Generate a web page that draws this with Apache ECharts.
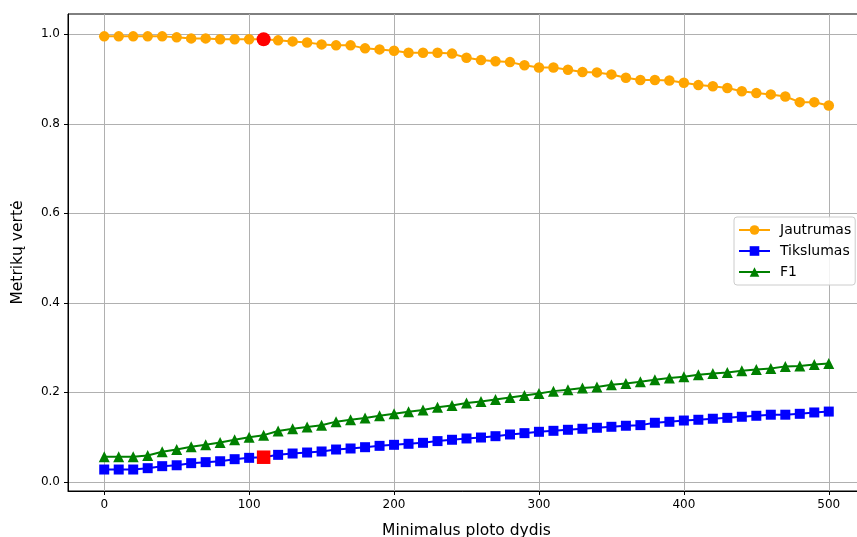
<!DOCTYPE html>
<html>
<head>
<meta charset="utf-8">
<script src="https://cdn.jsdelivr.net/npm/echarts@6/dist/echarts.min.js"></script>
<style>
  html, body { margin: 0; padding: 0; background: #fff; }
  #chart { width: 857px; height: 537px; }
</style>
</head>
<body>
<div id="chart"></div>
<script>
// Minimal plot size thresholds (x axis)
const plotSizes = [];
for (let s = 0; s <= 500; s += 10) plotSizes.push(s);

// Recall (Jautrumas)
const jautrumas = [
  0.9955, 0.9955, 0.9955, 0.9955, 0.9955, 0.9933, 0.991, 0.991, 0.989, 0.989,
  0.989, 0.989, 0.9866, 0.9843, 0.982, 0.9776, 0.9754, 0.9754, 0.9687, 0.9664,
  0.9633, 0.9588, 0.9588, 0.9588, 0.957, 0.9477, 0.9425, 0.940, 0.938, 0.931,
  0.926, 0.926, 0.921, 0.916, 0.915, 0.9105, 0.903, 0.898, 0.898, 0.897,
  0.892, 0.8866, 0.884, 0.880, 0.873, 0.8687, 0.8658, 0.861, 0.8485, 0.8485,
  0.841
];

// Precision (Tikslumas)
const tikslumas = [
  0.0275, 0.0275, 0.0275, 0.0305, 0.035, 0.037, 0.0417, 0.044, 0.046, 0.0506,
  0.0536, 0.055, 0.0603, 0.0633, 0.0655, 0.0678, 0.0722, 0.0745, 0.0774, 0.0804,
  0.0827, 0.085, 0.0872, 0.091, 0.094, 0.0969, 0.099, 0.102, 0.1058, 0.1088,
  0.1118, 0.114, 0.1163, 0.1186, 0.1208, 0.123, 0.1253, 0.1267, 0.132, 0.1342,
  0.137, 0.1387, 0.141, 0.143, 0.1454, 0.1476, 0.150, 0.150, 0.152, 0.155,
  0.157
];

// F1 score
const f1 = [
  0.0559, 0.0559, 0.0559, 0.0588, 0.0671, 0.0723, 0.0783, 0.0828, 0.088, 0.094,
  0.0998, 0.1043, 0.1135, 0.1185, 0.1225, 0.1263, 0.1345, 0.1387, 0.1428, 0.1475,
  0.152, 0.1564, 0.1605, 0.1665, 0.1705, 0.176, 0.1797, 0.184, 0.1886, 0.193,
  0.1975, 0.2027, 0.2058, 0.2095, 0.2117, 0.217, 0.220, 0.2237, 0.228, 0.2318,
  0.2349, 0.2394, 0.2423, 0.2445, 0.2483, 0.2512, 0.2535, 0.258, 0.2586, 0.2624,
  0.2647
];

// Chosen threshold, highlighted in red
const chosenSize = 110;

// Axis tick labels
const xTicks = [0, 100, 200, 300, 400, 500];
const yTicks = [0.0, 0.2, 0.4, 0.6, 0.8, 1.0];

const pairs = (ys) => plotSizes.map((x, i) => [x, ys[i]]);
const chosenIdx = plotSizes.indexOf(chosenSize);

const font = 'DejaVu Sans';
const chart = echarts.init(document.getElementById('chart'), null, { renderer: 'canvas' });

chart.setOption({
  animation: false,
  backgroundColor: '#fff',
  textStyle: { fontFamily: font },
  grid: {
    left: 68, top: 14, width: 797, bottom: 46,
    outerBoundsMode: 'none', containLabel: false,
    show: true, borderColor: '#000', borderWidth: 1, backgroundColor: 'transparent'
  },
  legend: {
    left: 734, top: 217,
    orient: 'vertical',
    backgroundColor: 'rgba(255,255,255,0.85)',
    borderColor: '#cccccc', borderWidth: 1, borderRadius: 3,
    padding: [6, 4, 6, 4],
    itemGap: 7,
    itemWidth: 31, itemHeight: 12,
    textStyle: { fontFamily: font, fontSize: 14, color: '#000', padding: [0, 0, 0, 5] },
    data: ['Jautrumas', 'Tikslumas', 'F1']
  },
  xAxis: {
    type: 'value', min: -25, max: 525,
    name: 'Minimalus ploto dydis', nameLocation: 'middle', nameGap: 32,
    nameTextStyle: { fontFamily: font, fontSize: 15.5, color: '#000' },
    axisLine: { onZero: false, lineStyle: { color: '#000', width: 1 } },
    axisTick: { show: true, customValues: xTicks, length: 4, lineStyle: { color: '#000' } },
    axisLabel: { customValues: xTicks, fontFamily: font, fontSize: 12, color: '#000', margin: 8 },
    splitLine: { show: true, lineStyle: { color: '#b0b0b0', width: 1 } }
  },
  yAxis: {
    type: 'value', min: -0.0205, max: 1.0455,
    name: 'Metrikų vertė', nameLocation: 'middle', nameGap: 42, nameRotate: 90,
    nameTextStyle: { fontFamily: font, fontSize: 15.5, color: '#000' },
    axisLine: { show: true, onZero: false, lineStyle: { color: '#000', width: 1 } },
    axisTick: { show: true, customValues: yTicks, length: 4, lineStyle: { color: '#000' } },
    axisLabel: {
      customValues: yTicks, fontFamily: font, fontSize: 12, color: '#000', margin: 8,
      formatter: (v) => v.toFixed(1)
    },
    splitLine: { show: true, lineStyle: { color: '#b0b0b0', width: 1 } }
  },
  series: [
    {
      name: 'Jautrumas', type: 'line', data: pairs(jautrumas),
      color: '#ffa500', symbol: 'circle', symbolSize: 10.5,
      lineStyle: { width: 2, color: '#ffa500' },
      itemStyle: { color: '#ffa500' }, z: 2
    },
    {
      name: 'Tikslumas', type: 'line', data: pairs(tikslumas),
      color: '#0000ff', symbol: 'rect', symbolSize: 10,
      lineStyle: { width: 2, color: '#0000ff' },
      itemStyle: { color: '#0000ff' }, z: 3
    },
    {
      name: 'F1', type: 'line', data: pairs(f1),
      color: '#008000', symbol: 'triangle', symbolSize: 11,
      lineStyle: { width: 2, color: '#008000' },
      itemStyle: { color: '#008000' }, z: 4
    },
    {
      name: 'chosen-recall', type: 'scatter',
      data: [[chosenSize, jautrumas[chosenIdx]]],
      symbol: 'circle', symbolSize: 14,
      itemStyle: { color: '#ff0000', opacity: 1 }, z: 10
    },
    {
      name: 'chosen-precision', type: 'scatter',
      data: [[chosenSize, tikslumas[chosenIdx]]],
      symbol: 'rect', symbolSize: 13.5,
      itemStyle: { color: '#ff0000', opacity: 1 }, z: 10
    }
  ]
});
</script>
</body>
</html>
